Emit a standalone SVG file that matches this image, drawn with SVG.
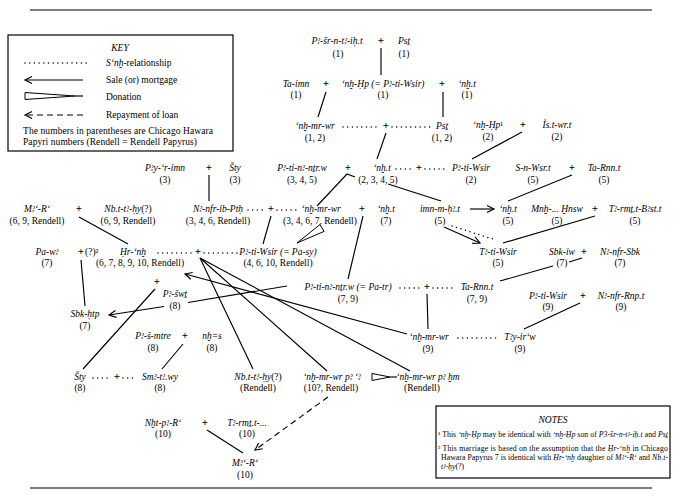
<svg xmlns="http://www.w3.org/2000/svg" width="680" height="501" viewBox="0 0 680 501">
<style>
text{font-family:"Liberation Serif","DejaVu Serif","Noto Sans",serif;fill:#000}
.n{font-size:9.5px;font-style:italic;text-anchor:middle}
.s{font-size:9.5px;text-anchor:middle}
.p{font-size:11px;font-weight:bold;text-anchor:middle}
.k{font-size:9.5px}
.t{font-size:7.8px}
.i{font-style:italic}
.r{font-style:normal}
.ln{stroke:#000;stroke-width:1.15;fill:none}
.dt{stroke:#000;stroke-width:1.5;stroke-linecap:round;stroke-dasharray:0 4.7;fill:none}
.ds{stroke-dasharray:6 4}
.ar{marker-end:url(#sale)}
.wd{stroke:#000;stroke-width:1;fill:#fff}
.bx{stroke:#000;stroke-width:1.2;fill:none}
</style>
<defs>
<marker id="sale" markerWidth="10" markerHeight="10" refX="8" refY="5" orient="auto" markerUnits="userSpaceOnUse"><path d="M1,1.5 L8,5 L1,8.5" fill="none" stroke="#000" stroke-width="1.15"/></marker>
</defs>
<rect width="680" height="501" fill="#fff"/>
<line class="ln" x1="30" y1="10" x2="652" y2="10" stroke-width="1.3"/>
<line class="ln" x1="30" y1="488" x2="652" y2="488" stroke-width="1.3"/>

<g id="key">
<rect class="bx" x="8" y="35" width="225" height="116"/>
<text class="k i" x="120" y="51" text-anchor="middle">KEY</text>
<line class="dt" x1="25" y1="63" x2="90" y2="63"/>
<text class="k" x="106" y="66"><tspan class="i">S‘nḫ</tspan>-relationship</text>
<line class="ln ar" x1="83" y1="80" x2="25" y2="80"/>
<text class="k" x="106" y="83">Sale (or) mortgage</text>
<path class="wd" d="M25,92.5 L75,96 L25,99.5 Z"/>
<line class="ln" x1="75" y1="96" x2="83" y2="96"/>
<text class="k" x="106" y="100">Donation</text>
<line class="ln ds ar" x1="83" y1="115" x2="25" y2="115"/>
<text class="k" x="106" y="118">Repayment of loan</text>
<text class="k" x="23" y="134" textLength="190" lengthAdjust="spacing">The numbers in parentheses are Chicago Hawara</text>
<text class="k" x="23" y="145" textLength="174" lengthAdjust="spacing">Papyri numbers (Rendell = Rendell Papyrus)</text>
</g>

<g id="connectors">
<g id="plus">
<text class="p" x="381" y="44">+</text>
<text class="p" x="326" y="87">+</text>
<text class="p" x="442" y="87">+</text>
<text class="p" x="386" y="129">+</text>
<text class="p" x="523" y="128">+</text>
<text class="p" x="209" y="171">+</text>
<text class="p" x="348" y="171">+</text>
<text class="p" x="419" y="171">+</text>
<text class="p" x="572" y="171">+</text>
<text class="p" x="79" y="212">+</text>
<text class="p" x="271" y="212">+</text>
<text class="p" x="362" y="212">+</text>
<text class="p" x="595" y="212">+</text>
<text class="p" x="81" y="255">+</text><text class="k" x="85" y="255">(?)²</text>
<text class="p" x="198" y="255">+</text>
<text class="p" x="584" y="255">+</text>
<text class="p" x="427" y="290">+</text>
<text class="p" x="583" y="299">+</text>
<text class="p" x="157" y="285">+</text>
<text class="p" x="185" y="339">+</text>
<text class="p" x="117" y="380">+</text>
<text class="p" x="205" y="426">+</text>
</g>
<g id="snh">
<line class="dt" x1="343" y1="127" x2="380" y2="127"/>
<line class="dt" x1="392" y1="127" x2="432" y2="127"/>
<line class="dt" x1="396" y1="169" x2="414" y2="169"/>
<line class="dt" x1="425" y1="169" x2="446" y2="169"/>
<line class="dt" x1="248" y1="210" x2="266" y2="210"/>
<line class="dt" x1="277" y1="210" x2="297" y2="210"/>
<line class="dt" x1="158" y1="253" x2="193" y2="253"/>
<line class="dt" x1="204" y1="253" x2="240" y2="253"/>
<line class="dt" x1="400" y1="288" x2="421" y2="288"/>
<line class="dt" x1="433" y1="288" x2="455" y2="288"/>
<line class="dt" x1="458" y1="338" x2="498" y2="338"/>
<line class="dt" x1="93" y1="378" x2="111" y2="378"/>
<line class="dt" x1="123" y1="378" x2="136" y2="378"/>
<line class="dt" x1="452" y1="226" x2="496" y2="240"/>
</g>
<g id="descent">
<line class="ln" x1="381" y1="48" x2="381" y2="75"/>
<line class="ln" x1="326" y1="92" x2="318" y2="117"/>
<line class="ln" x1="443" y1="92" x2="443" y2="117"/>
<line class="ln" x1="386" y1="133" x2="377" y2="159"/>
<line class="ln" x1="522" y1="132" x2="472" y2="159"/>
<line class="ln" x1="209" y1="175" x2="209" y2="201"/>
<polyline class="ln" points="317,206 347,174 355,177"/>
<line class="ln" x1="572" y1="175" x2="508" y2="201"/>
<line class="ln" x1="388" y1="184" x2="441" y2="201"/>
<line class="ln" x1="79" y1="217" x2="128" y2="244"/>
<line class="ln" x1="271" y1="216" x2="263" y2="244"/>
<line class="ln" x1="363" y1="216" x2="348" y2="279"/>
<line class="ln" x1="595" y1="216" x2="503" y2="243"/>
<line class="ln" x1="81" y1="260" x2="85" y2="306"/>
<line class="ln" x1="582" y1="258" x2="569" y2="262"/>
<line class="ln" x1="553" y1="266" x2="500" y2="281"/>
<line class="ln" x1="427" y1="294" x2="428" y2="329"/>
<line class="ln" x1="580" y1="303" x2="524" y2="329"/>
<line class="ln" x1="155" y1="289" x2="83" y2="369"/>
<line class="ln" x1="183" y1="344" x2="162" y2="369"/>
<line class="ln" x1="200" y1="258" x2="253" y2="369"/>
<line class="ln" x1="200" y1="258" x2="327" y2="371"/>
<line class="ln" x1="200" y1="258" x2="410" y2="371"/>
<line class="ln" x1="207" y1="430" x2="243" y2="453"/>
</g>
<g id="transactions">
<line class="ln ar" x1="470" y1="209" x2="494" y2="209"/>
<line class="ln ar" x1="444" y1="227" x2="480" y2="243"/>
<line class="ln ar" x1="407" y1="334" x2="185" y2="274"/>
<line class="ln" x1="287" y1="286" x2="188" y2="302.5"/>
<line class="ln ar" x1="164" y1="306.5" x2="109" y2="315"/>
<path class="wd" d="M324.1,231.4 L297,243 L319.9,224.6 Z"/>
<path class="wd" d="M372,373.5 L390,377 L372,380.5 Z"/>
<line class="ln" x1="390" y1="377" x2="397" y2="377"/>
<line class="ln ds ar" x1="328" y1="397" x2="255" y2="450"/>
</g>
</g>

<g id="pashr"><text class="n" x="337" y="44">Pꜣ-šr-n-tꜣ-iḥ.t</text><text class="s" x="338" y="57">(1)</text></g>
<g id="pst1"><text class="n" x="404" y="44">Psṯ</text><text class="s" x="404" y="57">(1)</text></g>
<g id="taimn"><text class="n" x="296" y="87">Ta-ỉmn</text><text class="s" x="296" y="98">(1)</text></g>
<g id="anchhp1"><text class="n" x="383" y="87">‘nḫ-Ḥp (= Pꜣ-tỉ-Wsỉr)</text><text class="s" x="383" y="98">(1)</text></g>
<g id="ancht1"><text class="n" x="467" y="87">‘nḫ.t</text><text class="s" x="467" y="98">(1)</text></g>
<g id="anchmrwr12"><text class="n" x="315" y="129">‘nḫ-mr-wr</text><text class="s" x="315" y="141">(1, 2)</text></g>
<g id="pst12"><text class="n" x="442" y="129">Psṯ</text><text class="s" x="442" y="141">(1, 2)</text></g>
<g id="anchhp2"><text class="n" x="488" y="128">‘nḫ-Ḥp<tspan class="r">¹</tspan></text><text class="s" x="488" y="140">(2)</text></g>
<g id="isetwr"><text class="n" x="557" y="128">Ỉs.t-wr.t</text><text class="s" x="557" y="140">(2)</text></g>
<g id="pyrimn"><text class="n" x="165" y="171">Pꜣy-‘r-ỉmn</text><text class="s" x="165" y="183">(3)</text></g>
<g id="shty3"><text class="n" x="235" y="171">Šty</text><text class="s" x="235" y="183">(3)</text></g>
<g id="ptn345"><text class="n" x="302" y="171">Pꜣ-tỉ-nꜣ-nṯr.w</text><text class="s" x="302" y="183">(3, 4, 5)</text></g>
<g id="ancht2345"><text class="n" x="382" y="171">‘nḫ.t</text><text class="s" x="378" y="183">(2, 3, 4, 5)</text></g>
<g id="ptw2"><text class="n" x="471" y="171">Pꜣ-tỉ-Wsỉr</text><text class="s" x="471" y="183">(2)</text></g>
<g id="snwsr"><text class="n" x="533" y="171">S-n-Wsr.t</text><text class="s" x="533" y="183">(5)</text></g>
<g id="tarnn5"><text class="n" x="604" y="171">Ta-Rnn.t</text><text class="s" x="604" y="183">(5)</text></g>
<g id="maare"><text class="n" x="37" y="212">Mꜣ‘-R‘</text><text class="s" x="37" y="224">(6, 9, Rendell)</text></g>
<g id="nbt1"><text class="n" x="128" y="212">Nb.t-tꜣ-ḥy<tspan class="r">(?)</tspan></text><text class="s" x="128" y="224">(6, 9, Rendell)</text></g>
<g id="nanfr"><text class="n" x="218" y="212">Nꜣ-nfr-ỉb-Ptḥ</text><text class="s" x="218" y="224">(3, 4, 6, Rendell)</text></g>
<g id="anchmrwr3467"><text class="n" x="321" y="212">‘nḫ-mr-wr</text><text class="s" x="320" y="224">(3, 4, 6, 7, Rendell)</text></g>
<g id="ancht7"><text class="n" x="386" y="212">‘nḫ.t</text><text class="s" x="386" y="224">(7)</text></g>
<g id="imn"><text class="n" x="440" y="212">ỉmn-m-ḥꜣ.t</text><text class="s" x="440" y="224">(5)</text></g>
<g id="ancht5"><text class="n" x="508" y="212">‘nḫ.t</text><text class="s" x="508" y="224">(5)</text></g>
<g id="mnh"><text class="n" x="557" y="212">Mnḫ-... Ḫnsw</text><text class="s" x="557" y="224">(5)</text></g>
<g id="tarmt"><text class="n" x="635" y="212">Tꜣ-rmṯ.t-Bꜣst.t</text><text class="s" x="635" y="224">(5)</text></g>
<g id="pawt"><text class="n" x="47" y="255">Pa-wꜣ</text><text class="s" x="47" y="266">(7)</text></g>
<g id="hrankh"><text class="n" x="133" y="255">Ḥr-‘nḫ</text><text class="s" x="140" y="266">(6, 7, 8, 9, 10, Rendell)</text></g>
<g id="ptw4"><text class="n" x="278" y="255">Pꜣ-tỉ-Wsỉr (= Pa-sy)</text><text class="s" x="278" y="266">(4, 6, 10, Rendell)</text></g>
<g id="ttw"><text class="n" x="498" y="255">Tꜣ-tỉ-Wsỉr</text><text class="s" x="498" y="266">(5)</text></g>
<g id="sbkiw"><text class="n" x="562" y="255">Sbk-ỉw</text><text class="s" x="562" y="266">(7)</text></g>
<g id="nanfrsbk"><text class="n" x="620" y="255">Nꜣ-nfr-Sbk</text><text class="s" x="620" y="266">(7)</text></g>
<g id="ptn79"><text class="n" x="348" y="290">Pꜣ-tỉ-nꜣ-nṯr.w (= Pa-tr)</text><text class="s" x="348" y="302">(7, 9)</text></g>
<g id="tarnn79"><text class="n" x="477" y="290">Ta-Rnn.t</text><text class="s" x="477" y="302">(7, 9)</text></g>
<g id="pashwt"><text class="n" x="175" y="297">Pꜣ-šwṯ</text><text class="s" x="175" y="309">(8)</text></g>
<g id="ptw9"><text class="n" x="548" y="299">Pꜣ-tỉ-Wsỉr</text><text class="s" x="548" y="310">(9)</text></g>
<g id="nanfrrnp"><text class="n" x="621" y="299">Nꜣ-nfr-Rnp.t</text><text class="s" x="621" y="310">(9)</text></g>
<g id="sbkhtp"><text class="n" x="85" y="317">Sbk-ḥtp</text><text class="s" x="85" y="329">(7)</text></g>
<g id="pasmtre"><text class="n" x="153" y="339">Pꜣ-š-mtre</text><text class="s" x="153" y="351">(8)</text></g>
<g id="nhs"><text class="n" x="212" y="339">nḫ=s</text><text class="s" x="212" y="351">(8)</text></g>
<g id="anchmrwr9"><text class="n" x="429" y="340">‘nḫ-mr-wr</text><text class="s" x="428" y="352">(9)</text></g>
<g id="tayir"><text class="n" x="520" y="340">Tꜣy-ỉr‘w</text><text class="s" x="520" y="352">(9)</text></g>
<g id="shty8"><text class="n" x="80" y="380">Šty</text><text class="s" x="80" y="391">(8)</text></g>
<g id="smtw"><text class="n" x="160" y="380">Smꜣ-tꜣ.wy</text><text class="s" x="160" y="391">(8)</text></g>
<g id="nbt2"><text class="n" x="258" y="380">Nb.t-tꜣ-ḥy<tspan class="r">(?)</tspan></text><text class="s" x="258" y="391">(Rendell)</text></g>
<g id="paa"><text class="n" x="332" y="380">‘nḫ-mr-wr pꜣ ‘ꜣ</text><text class="s" x="331" y="391">(10?, Rendell)</text></g>
<g id="phm"><text class="n" x="428" y="380">‘nḫ-mr-wr pꜣ ḫm</text><text class="s" x="422" y="391">(Rendell)</text></g>
<g id="nht"><text class="n" x="163" y="426">Nḫt-pꜣ-R‘</text><text class="s" x="163" y="437">(10)</text></g>
<g id="trmt10"><text class="n" x="247" y="426">Tꜣ-rmṯ.t-...</text><text class="s" x="247" y="437">(10)</text></g>
<g id="maare10"><text class="n" x="245" y="466">Mꜣ‘-R‘</text><text class="s" x="245" y="478">(10)</text></g>

<g id="notes">
<rect class="bx" x="436" y="406" width="234" height="72"/>
<text class="k i" x="553" y="423" text-anchor="middle">NOTES</text>
<text class="t" x="438" y="437" textLength="230" lengthAdjust="spacing">¹ This <tspan class="i">‘nḫ-Ḥp</tspan> may be identical with <tspan class="i">‘nḫ-Ḥp</tspan> son of <tspan class="i">P3-šr-n-tꜣ-iḥ.t</tspan> and <tspan class="i">Psṯ</tspan></text>
<text class="t" x="438" y="451" textLength="230" lengthAdjust="spacing">² This marriage is based on the assumption that the <tspan class="i">Ḥr-‘nḫ</tspan> in Chicago</text>
<text class="t" x="441" y="460" textLength="227" lengthAdjust="spacing">Hawara Papyrus 7 is identical with <tspan class="i">Ḥr-‘nḫ</tspan> daughter of <tspan class="i">Mꜣ‘-R‘</tspan> and <tspan class="i">Nb.t-</tspan></text>
<text class="t i" x="441" y="469">tꜣ-ḥy<tspan class="r">(?)</tspan></text>
</g>
</svg>
